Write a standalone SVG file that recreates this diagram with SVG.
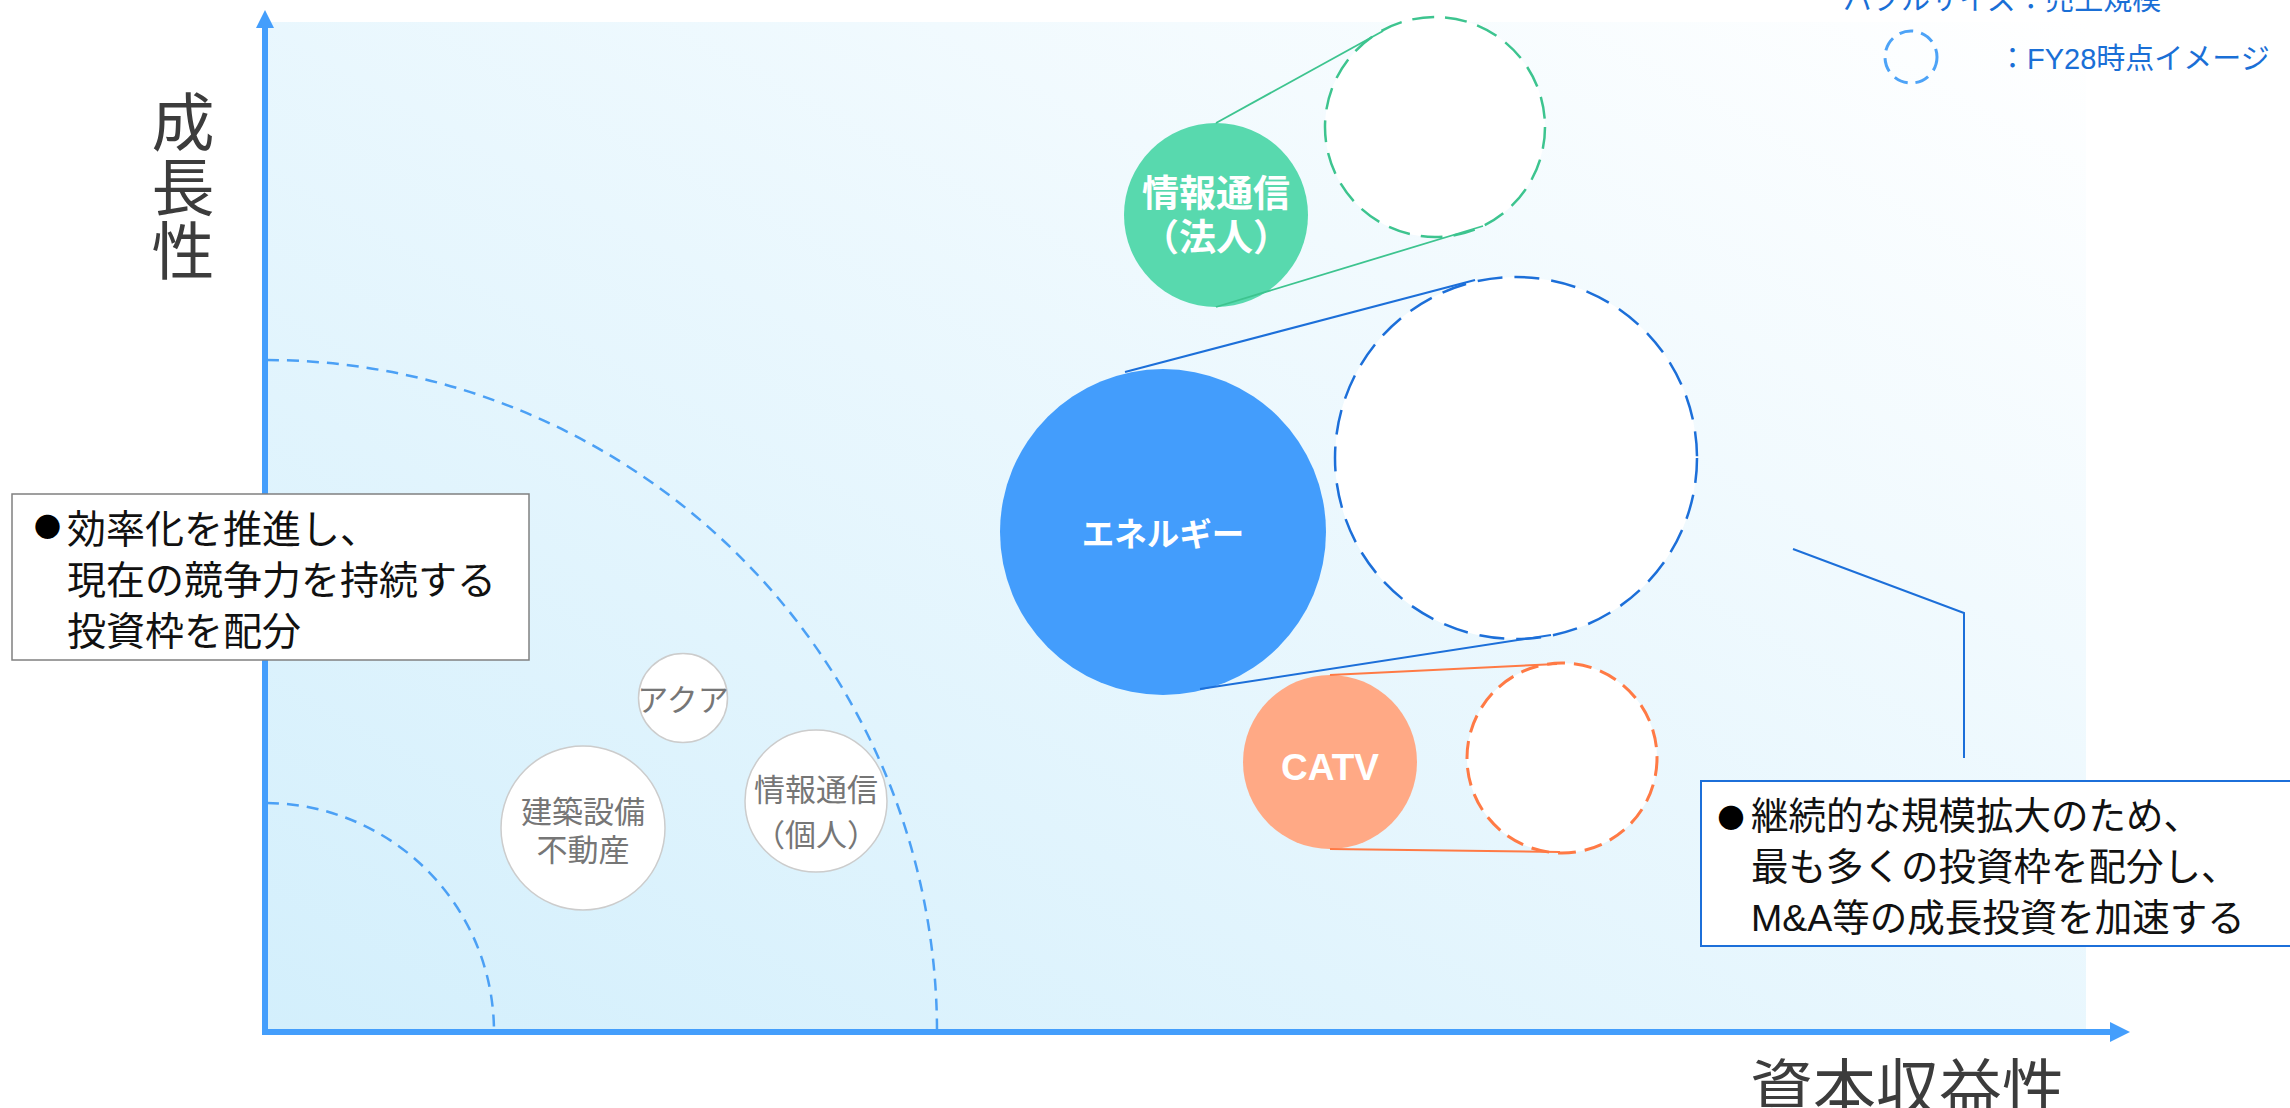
<svg xmlns="http://www.w3.org/2000/svg" width="2290" height="1108" viewBox="0 0 2290 1108">
<defs>
<linearGradient id="bg" x1="0" y1="1" x2="1" y2="0">
<stop offset="0" stop-color="#d3effc"/>
<stop offset="1" stop-color="#ffffff"/>
</linearGradient>
</defs>
<style>
text{font-family:"Liberation Sans","Noto Sans CJK JP",sans-serif}
.axis{stroke:#449efc;stroke-width:6;fill:none}
.arc{stroke:#4ba0f5;stroke-width:2.5;fill:none;stroke-dasharray:12 8}
.ax-label{font-size:63px;fill:#3c3c3c}
.gray circle{fill:#ffffff;stroke:#cccccc;stroke-width:1.5}
.gray text{font-size:31px;fill:#767676;text-anchor:middle}
.wt{fill:#ffffff;font-weight:bold;text-anchor:middle}
.box{fill:#ffffff}
.bt{fill:#111111}
.bul{font-family:"Noto Sans CJK JP",sans-serif;font-size:27px;fill:#000000}
</style>
<rect x="267" y="22" width="1819" height="1010" fill="url(#bg)"/>
<g id="arcs">
<path class="arc" d="M267,803 A229,229 0 0 1 494,1032"/>
<path class="arc" d="M267,360 A672,672 0 0 1 937,1032"/>
</g>
<g id="axes">
<line class="axis" x1="265" y1="1034" x2="265" y2="27"/>
<path d="M256,28 L265,10 L274,28 Z" fill="#449efc"/>
<line class="axis" x1="262" y1="1032" x2="2112" y2="1032"/>
<path d="M2110,1022 L2130,1032 L2110,1042 Z" fill="#449efc"/>
<text class="ax-label" x="183" y="145" text-anchor="middle">成</text>
<text class="ax-label" x="183" y="210" text-anchor="middle">長</text>
<text class="ax-label" x="183" y="274" text-anchor="middle">性</text>
<text class="ax-label" x="1750" y="1111">資本収益性</text>
</g>
<g id="legend">
<text x="1843" y="10" font-size="29" fill="#1a6fd6">バブルサイズ：売上規模</text>
<circle cx="1911" cy="57" r="26" fill="none" stroke="#4da3f7" stroke-width="3" stroke-dasharray="14 8"/>
<text x="1998" y="69" font-size="29" fill="#1a6fd6">：FY28時点イメージ</text>
</g>
<g id="node-aqua" class="gray">
<circle cx="683" cy="698" r="44.5"/>
<text x="683" y="711">アクア</text>
</g>
<g id="node-kenchiku" class="gray">
<circle cx="583" cy="828" r="82"/>
<text x="583" y="823">建築設備</text>
<text x="583" y="861">不動産</text>
</g>
<g id="node-kojin" class="gray">
<circle cx="816" cy="801" r="71"/>
<text x="816" y="801">情報通信</text>
<text x="816" y="846">（個人）</text>
</g>
<g id="node-houjin-fy28">
<circle cx="1435" cy="127" r="110" fill="#ffffff" stroke="#3dc48f" stroke-width="2.5" stroke-dasharray="22 11"/>
</g>
<g id="node-energy-fy28">
<circle cx="1516" cy="458" r="181" fill="#ffffff" stroke="#1c6fd9" stroke-width="2.5" stroke-dasharray="25 12"/>
</g>
<g id="node-catv-fy28">
<circle cx="1562" cy="758" r="95" fill="#ffffff" stroke="#ff7a45" stroke-width="3" stroke-dasharray="18 9"/>
</g>
<g id="node-houjin">
<circle cx="1216" cy="215" r="92" fill="#58d9ae"/>
<text class="wt" x="1216" y="207" font-size="37">情報通信</text>
<text class="wt" x="1216" y="251" font-size="37">（法人）</text>
</g>
<g id="node-energy">
<circle cx="1163" cy="532" r="163" fill="#439dfc"/>
<text class="wt" x="1163" y="546" font-size="32.5">エネルギー</text>
</g>
<g id="node-catv">
<circle cx="1330" cy="762" r="87" fill="#ffa985"/>
<text class="wt" x="1330" y="780" font-size="37">CATV</text>
</g>
<g id="connectors" fill="none">
<line x1="1216" y1="123" x2="1383" y2="31" stroke="#3dc48f" stroke-width="1.8"/>
<line x1="1216" y1="307" x2="1483" y2="226" stroke="#3dc48f" stroke-width="1.8"/>
<line x1="1125" y1="372" x2="1475" y2="280" stroke="#1c6fd9" stroke-width="2"/>
<line x1="1200" y1="689" x2="1551" y2="635" stroke="#1c6fd9" stroke-width="2"/>
<line x1="1330" y1="675" x2="1557" y2="664" stroke="#ff7a45" stroke-width="2"/>
<line x1="1330" y1="849" x2="1560" y2="852" stroke="#ff7a45" stroke-width="2"/>
<polyline points="1793,549 1964,613 1964,758" stroke="#1c6fd9" stroke-width="2"/>
</g>
<g id="note-left">
<rect class="box" x="12" y="494" width="517" height="166" stroke="#808080" stroke-width="1.5"/>
<text class="bul" x="34" y="537">●</text>
<text class="bt" x="67" y="543" font-size="39">効率化を推進し、</text>
<text class="bt" x="67" y="594" font-size="39">現在の競争力を持続する</text>
<text class="bt" x="67" y="645" font-size="39">投資枠を配分</text>
</g>
<g id="note-right">
<rect class="box" x="1701" y="781" width="600" height="165" stroke="#1c6fd9" stroke-width="2"/>
<text class="bul" x="1717.5" y="828">●</text>
<text class="bt" x="1751" y="829" font-size="37.5">継続的な規模拡大のため、</text>
<text class="bt" x="1751" y="880" font-size="37.5">最も多くの投資枠を配分し、</text>
<text class="bt" x="1751" y="931" font-size="37.5">M&amp;A等の成長投資を加速する</text>
</g>
</svg>
